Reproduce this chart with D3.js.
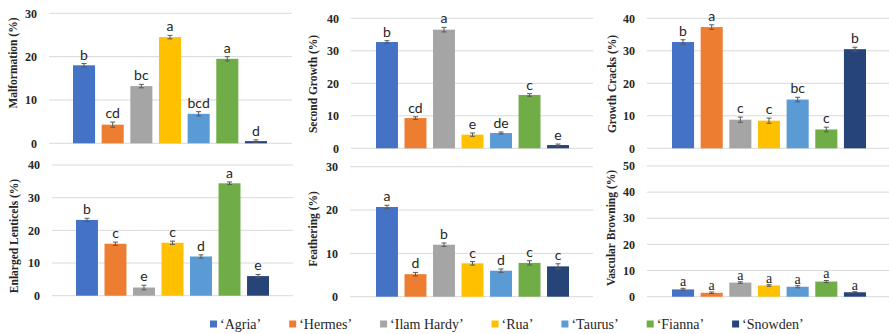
<!DOCTYPE html>
<html>
<head>
<meta charset="utf-8">
<script src="https://cdn.jsdelivr.net/npm/d3@7"></script>
<style>
  html, body { margin: 0; padding: 0; background: #ffffff; }
  svg { display: block; }
  .serif { font-family: "Liberation Serif", "Times New Roman", Times, serif; }
  .sans { font-family: Lato, "Liberation Sans", Arial, sans-serif; }
</style>
</head>
<body>
<svg id="chart" width="889" height="334"></svg>
<script>
// ---------- DATA ----------
const cultivars = ["\u2018Agria\u2019", "\u2018Hermes\u2019", "\u2018Ilam Hardy\u2019", "\u2018Rua\u2019", "\u2018Taurus\u2019", "\u2018Fianna\u2019", "\u2018Snowden\u2019"];
const colors = ["#4472C4", "#ED7D31", "#A5A5A5", "#FFC000", "#5B9BD5", "#70AD47", "#264478"];

const panelTitles = ["Malformation (%)", "Second Growth (%)", "Growth Cracks (%)", "Enlarged Lenticels (%)", "Feathering (%)", "Vascular Browning (%)"];

const malformation       = [18.0, 4.3, 13.2, 24.5, 6.8, 19.5, 0.5];
const malformationErr    = [0.4, 0.6, 0.4, 0.4, 0.5, 0.5, 0.3];
const malformationLet    = ["b", "cd", "bc", "a", "bcd", "a", "d"];

const secondGrowth       = [32.7, 9.3, 36.5, 4.2, 4.7, 16.4, 1.0];
const secondGrowthErr    = [0.4, 0.4, 0.7, 0.5, 0.3, 0.4, 0.3];
const secondGrowthLet    = ["b", "cd", "a", "e", "de", "c", "e"];

const growthCracks       = [32.7, 37.3, 8.8, 8.5, 15.0, 5.8, 30.5];
const growthCracksErr    = [0.7, 0.7, 0.8, 0.8, 0.7, 0.7, 0.6];
const growthCracksLet    = ["b", "a", "c", "c", "bc", "c", "b"];

const lenticels          = [23.2, 15.9, 2.5, 16.2, 12.0, 34.4, 6.0];
const lenticelsErr       = [0.5, 0.5, 0.7, 0.5, 0.5, 0.4, 0.5];
const lenticelsLet       = ["b", "c", "e", "c", "d", "a", "e"];

const feathering         = [20.7, 5.2, 12.0, 7.7, 6.0, 7.8, 7.0];
const featheringErr      = [0.4, 0.4, 0.4, 0.4, 0.4, 0.5, 0.6];
const featheringLet      = ["a", "d", "b", "c", "d", "c", "c"];

const vascular           = [2.8, 1.5, 5.4, 4.3, 3.8, 5.8, 1.7];
const vascularErr        = [0.4, 0.3, 0.3, 0.3, 0.4, 0.4, 0.2];
const vascularLet        = ["a", "a", "a", "a", "a", "a", "a"];

const yMaxes   = [30, 40, 40, 40, 30, 50];
const yTicks   = [[0,10,20,30],[0,10,20,30,40],[0,10,20,30,40],[0,10,20,30,40],[0,10,20,30],[0,10,20,30,40,50]];

// ---------- LAYOUT ----------
const layout = [
  {gx0: 49,  gx1: 292, y0: 143.3, yT: 13.3,  b0: 73,  b1: 267, lx: 13,  ly: 63,  letterFont: "sans"},
  {gx0: 351, gx1: 593, y0: 148.3, yT: 18.3,  b0: 376, b1: 569, lx: 313, ly: 84,  letterFont: "sans"},
  {gx0: 647, gx1: 889, y0: 148.3, yT: 18.3,  b0: 672, b1: 866, lx: 612, ly: 84,  letterFont: "sans"},
  {gx0: 52,  gx1: 293, y0: 295.7, yT: 165.0, b0: 76,  b1: 269, lx: 14,  ly: 236, letterFont: "sans"},
  {gx0: 350, gx1: 593, y0: 296.7, yT: 166.7, b0: 376, b1: 569, lx: 313, ly: 229, letterFont: "sans"},
  {gx0: 647, gx1: 889, y0: 296.7, yT: 166.0, b0: 672, b1: 866, lx: 611, ly: 228, letterFont: "serif"}
];

const values  = [malformation, secondGrowth, growthCracks, lenticels, feathering, vascular];
const errs    = [malformationErr, secondGrowthErr, growthCracksErr, lenticelsErr, featheringErr, vascularErr];
const letters = [malformationLet, secondGrowthLet, growthCracksLet, lenticelsLet, featheringLet, vascularLet];

const svg = d3.select("#chart");

layout.forEach((L, i) => {
  const g = svg.append("g");
  const y = d3.scaleLinear().domain([0, yMaxes[i]]).range([L.y0, L.yT]);
  const x = d3.scaleBand().domain(cultivars).range([L.b0, L.b1]).paddingInner(0.23).paddingOuter(0);

  // gridlines
  g.selectAll("line.grid").data(yTicks[i]).join("line")
    .attr("x1", L.gx0).attr("x2", L.gx1)
    .attr("y1", d => y(d)).attr("y2", d => y(d))
    .attr("stroke", "#d9d9d9").attr("stroke-width", 1);

  // tick labels
  g.selectAll("text.tick").data(yTicks[i]).join("text")
    .attr("class", "serif")
    .attr("x", L.gx0 - 12).attr("y", d => y(d)).attr("dy", "0.35em")
    .attr("text-anchor", "end")
    .style("font-weight", "bold").style("font-size", "12px")
    .attr("fill", "#262626")
    .text(d => d);

  // y label
  g.append("text")
    .attr("class", "serif")
    .attr("transform", `translate(${L.lx},${L.ly}) rotate(-90)`)
    .attr("text-anchor", "middle").attr("dy", "0.35em")
    .style("font-weight", "bold").style("font-size", "11.5px")
    .attr("fill", "#262626")
    .text(panelTitles[i]);

  const data = cultivars.map((c, k) => ({c, v: values[i][k], e: errs[i][k], l: letters[i][k], col: colors[k]}));

  // bars
  g.selectAll("rect.bar").data(data).join("rect")
    .attr("x", d => x(d.c)).attr("width", x.bandwidth())
    .attr("y", d => y(d.v)).attr("height", d => y(0) - y(d.v))
    .attr("fill", d => d.col);

  // error bars
  const eb = g.selectAll("g.err").data(data).join("g");
  eb.append("line")
    .attr("x1", d => x(d.c) + x.bandwidth() / 2).attr("x2", d => x(d.c) + x.bandwidth() / 2)
    .attr("y1", d => y(Math.max(0, d.v - d.e))).attr("y2", d => y(d.v + d.e))
    .attr("stroke", "#595959").attr("stroke-width", 1);
  ["lo", "hi"].forEach(k => {
    eb.append("line")
      .attr("x1", d => x(d.c) + x.bandwidth() / 2 - 2.5).attr("x2", d => x(d.c) + x.bandwidth() / 2 + 2.5)
      .attr("y1", d => y(k === "hi" ? d.v + d.e : Math.max(0, d.v - d.e)))
      .attr("y2", d => y(k === "hi" ? d.v + d.e : Math.max(0, d.v - d.e)))
      .attr("stroke", "#595959").attr("stroke-width", 1);
  });

  // letters
  g.selectAll("text.let").data(data).join("text")
    .attr("class", L.letterFont)
    .attr("x", d => x(d.c) + x.bandwidth() / 2)
    .attr("y", d => y(d.v + d.e) - (L.letterFont === "serif" ? 2 : 4))
    .attr("text-anchor", "middle")
    .style("font-size", "14px")
    .attr("fill", "#262626")
    .text(d => d.l);
});

// ---------- LEGEND ----------
const leg = svg.append("g");
let lxPos = 210;
const legGap = 28;
cultivars.forEach((c, k) => {
  leg.append("rect").attr("x", lxPos).attr("y", 320.5).attr("width", 7).attr("height", 7).attr("fill", colors[k]);
  const t = leg.append("text").attr("class", "serif").attr("x", lxPos + 10).attr("y", 324).attr("dy", "0.35em")
    .style("font-size", "14px").attr("fill", "#262626").text(c);
  lxPos += 10 + t.node().getComputedTextLength() + legGap;
});
</script>
</body>
</html>
